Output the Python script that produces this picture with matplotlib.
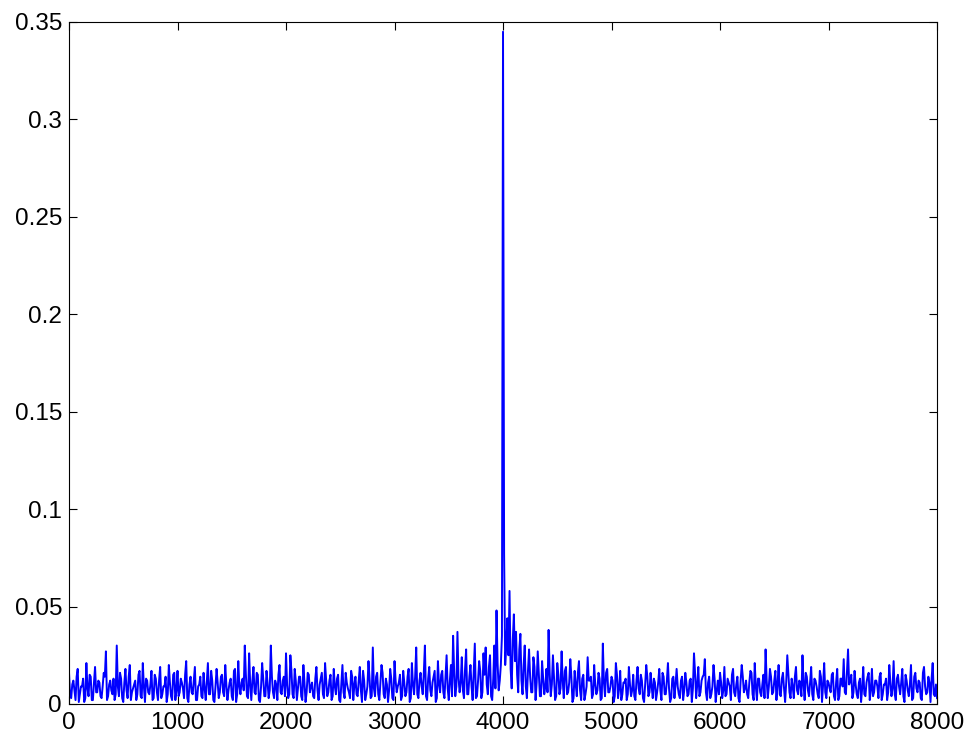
import numpy as np
import matplotlib
matplotlib.use("Agg")
import matplotlib.pyplot as plt

# spectrum magnitude, in units of 1e-3
# mag_even: samples at 0, 20, 40, ... 8000 Hz
mag_even = [
    16, 3, 12, 2, 18, 5, 9, 1, 21, 4, 14, 2, 19, 6, 11, 3, 16, 27, 4, 12,
    5, 2, 30, 4, 13, 1, 18, 3, 20, 6, 10, 2, 15, 4, 21, 1, 12, 5, 17, 3,
    13, 2, 19, 5, 9, 1, 20, 4, 15, 2, 17, 6, 11, 3, 22, 1, 14, 5, 19, 2,
    10, 4, 16, 2, 21, 5, 12, 1, 18, 3, 14, 6, 20, 2, 11, 4, 17, 1, 22, 5,
    13, 30, 4, 26, 2, 19, 5, 15, 1, 21, 4, 17, 3, 30, 6, 12, 2, 20, 5, 14,
    26, 3, 25, 5, 18, 2, 14, 4, 20, 1, 16, 6, 11, 3, 19, 2, 13, 5, 21, 4,
    12, 2, 18, 5, 15, 1, 20, 3, 11, 6, 17, 2, 14, 4, 19, 1, 12, 5, 22, 3,
    29, 4, 16, 2, 20, 5, 13, 1, 18, 3, 22, 6, 11, 2, 17, 4, 14, 1, 21, 5,
    29, 3, 16, 5, 30, 2, 19, 4, 14, 1, 22, 6, 17, 3, 25, 2, 20, 35, 4, 37,
    6, 24, 3, 28, 5, 20, 2, 31, 4, 22, 3, 26, 29, 5, 25, 2, 30, 48, 7, 20,
    345, 20, 44, 58, 8, 46, 37, 6, 36, 5, 30, 3, 28, 6, 24, 2, 27, 4, 22, 5,
    18, 38, 4, 25, 2, 21, 5, 27, 3, 19, 6, 23, 1, 17, 4, 22, 2, 15, 5, 24,
    12, 3, 20, 5, 16, 2, 31, 4, 18, 6, 14, 1, 21, 3, 17, 5, 11, 2, 19, 4,
    15, 2, 19, 5, 12, 1, 20, 4, 16, 3, 11, 6, 18, 2, 14, 5, 21, 1, 13, 3,
    18, 5, 12, 2, 16, 4, 12, 1, 26, 3, 19, 6, 14, 23, 2, 14, 5, 20, 1, 12,
    16, 3, 19, 5, 11, 2, 18, 4, 14, 1, 20, 6, 12, 3, 17, 5, 21, 2, 13, 4,
    15, 28, 3, 18, 5, 12, 2, 20, 4, 16, 1, 25, 6, 13, 3, 19, 5, 11, 25, 2,
    14, 4, 19, 2, 12, 5, 17, 1, 21, 3, 11, 6, 16, 2, 18, 4, 13, 23, 5, 28,
    12, 3, 17, 5, 11, 1, 19, 4, 14, 2, 18, 6, 12, 3, 16, 5, 10, 2, 20, 4,
    22, 2, 15, 5, 18, 1, 12, 4, 20, 3, 16, 6, 11, 2, 19, 5, 14, 1, 21, 4,
    3,
]
# mag_odd: samples at 10, 30, 50, ... 7990 Hz
mag_odd = [
    4, 10, 7, 14, 1, 9, 13, 3, 8, 15, 2, 11, 6, 12, 4, 9, 14, 2, 10, 7,
    13, 5, 9, 16, 3, 11, 7, 14, 2, 8, 12, 5, 17, 3, 9, 13, 6, 10, 2, 15,
    6, 12, 3, 9, 14, 5, 11, 2, 16, 7, 4, 13, 8, 15, 3, 10, 6, 12, 2, 9,
    14, 3, 8, 12, 5, 17, 2, 9, 11, 6, 15, 4, 10, 7, 13, 2, 18, 5, 9, 11,
    7, 15, 3, 10, 12, 6, 16, 2, 9, 13, 4, 11, 7, 14, 3, 10, 15, 6, 12, 4,
    10, 5, 17, 3, 12, 8, 14, 2, 11, 6, 15, 9, 4, 13, 7, 10, 16, 3, 12, 6,
    15, 4, 9, 13, 2, 11, 6, 16, 8, 3, 14, 10, 5, 12, 7, 17, 2, 9, 13, 4,
    8, 14, 5, 11, 16, 3, 10, 7, 13, 2, 12, 9, 15, 4, 11, 6, 18, 3, 10, 14,
    5, 12, 9, 16, 4, 13, 7, 11, 17, 3, 10, 15, 6, 14, 8, 12, 4, 16, 9, 13,
    11, 7, 18, 5, 14, 9, 16, 3, 12, 17, 6, 15, 10, 19, 4, 13, 8, 21, 12, 35,
    77, 30, 25, 18, 33, 22, 15, 28, 12, 20, 9, 17, 14, 6, 19, 11, 15, 4, 13, 9,
    6, 16, 10, 13, 4, 15, 8, 12, 17, 5, 11, 14, 3, 10, 16, 7, 13, 2, 9, 12,
    14, 5, 10, 7, 13, 3, 11, 16, 6, 9, 12, 4, 15, 8, 2, 11, 13, 5, 10, 7,
    4, 12, 8, 15, 3, 10, 14, 6, 9, 13, 2, 11, 7, 16, 5, 12, 8, 3, 14, 10,
    9, 3, 14, 7, 11, 5, 13, 8, 16, 10, 4, 12, 15, 6, 11, 3, 9, 13, 7, 5,
    11, 7, 4, 13, 9, 15, 6, 10, 3, 12, 14, 8, 5, 11, 16, 2, 9, 13, 6, 10,
    3, 12, 9, 14, 6, 17, 10, 5, 13, 8, 11, 15, 3, 9, 14, 7, 12, 4, 10, 16,
    7, 11, 5, 13, 9, 3, 14, 10, 6, 12, 8, 15, 4, 11, 2, 13, 9, 6, 16, 10,
    15, 6, 10, 3, 13, 8, 5, 11, 16, 7, 4, 12, 9, 14, 2, 10, 13, 6, 11, 8,
    5, 13, 9, 11, 4, 15, 7, 10, 2, 14, 8, 12, 3, 16, 9, 6, 11, 13, 5, 10,
]

mag = np.empty(len(mag_even) + len(mag_odd))
mag[0::2] = mag_even
mag[1::2] = mag_odd
mag = mag / 1000.0
freq = np.linspace(0, 8000, len(mag))

plt.rcParams["font.family"] = ["Liberation Sans", "DejaVu Sans"]
plt.rcParams["font.size"] = 17.5

fig = plt.figure(figsize=(9.68, 7.37), dpi=100)
ax = fig.add_axes([0.0713, 0.0448, 0.8967, 0.9254])
ax.plot(freq, mag, color="#0000ff", linewidth=1.4)

ax.set_xlim(0, 8000)
ax.set_ylim(0, 0.35)
ax.set_xticks(np.arange(0, 8001, 1000))
ax.set_yticks([0, 0.05, 0.1, 0.15, 0.2, 0.25, 0.3, 0.35])
ax.set_yticklabels(["0", "0.05", "0.1", "0.15", "0.2", "0.25", "0.3", "0.35"])
ax.tick_params(direction="in", top=True, right=True, length=6, width=0.8)
ax.tick_params(axis="x", pad=6)
ax.tick_params(axis="y", pad=5)
for s in ax.spines.values():
    s.set_linewidth(0.8)

fig.savefig("out.png", dpi=100)
